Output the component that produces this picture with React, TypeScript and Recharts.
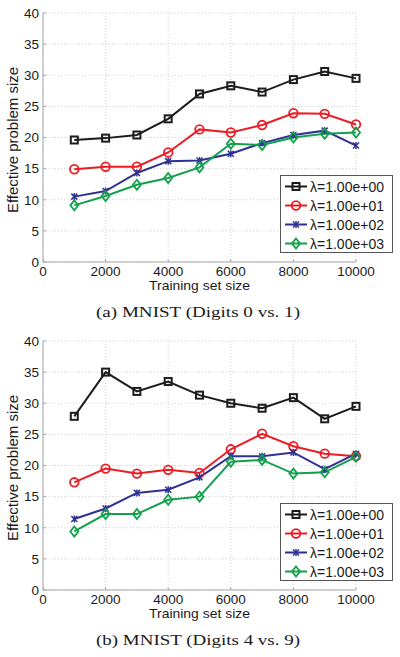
import React from 'react';
import { LineChart, Line, XAxis, YAxis, CartesianGrid, Legend } from 'recharts';

const trainingSetSizes = [1000, 2000, 3000, 4000, 5000, 6000, 7000, 8000, 9000, 10000];
const xTicks = [0, 2000, 4000, 6000, 8000, 10000];
const yTicks = [0, 5, 10, 15, 20, 25, 30, 35, 40];
const lambdaLabels = ['λ=1.00e+00', 'λ=1.00e+01', 'λ=1.00e+02', 'λ=1.00e+03'];
const xAxisTitle = 'Training set size';
const yAxisTitle = 'Effective problem size';
const captionA = '(a) MNIST (Digits 0 vs. 1)';
const captionB = '(b) MNIST (Digits 4 vs. 9)';

// Panel (a): digits 0 vs 1
const digits01Lambda1 = [19.6, 19.9, 20.4, 23.0, 27.0, 28.3, 27.3, 29.3, 30.6, 29.5];
const digits01Lambda10 = [14.9, 15.3, 15.3, 17.6, 21.3, 20.8, 22.0, 23.9, 23.8, 22.1];
const digits01Lambda100 = [10.5, 11.4, 14.3, 16.2, 16.3, 17.4, 19.1, 20.4, 21.1, 18.7];
const digits01Lambda1000 = [9.1, 10.6, 12.4, 13.5, 15.2, 19.0, 18.8, 20.0, 20.6, 20.8];

// Panel (b): digits 4 vs 9
const digits49Lambda1 = [27.9, 35.0, 31.9, 33.5, 31.3, 30.0, 29.2, 30.9, 27.5, 29.5];
const digits49Lambda10 = [17.3, 19.5, 18.7, 19.3, 18.8, 22.6, 25.1, 23.1, 21.9, 21.5];
const digits49Lambda100 = [11.4, 13.1, 15.6, 16.1, 18.1, 21.5, 21.5, 22.1, 19.4, 21.9];
const digits49Lambda1000 = [9.4, 12.2, 12.2, 14.5, 15.0, 20.6, 20.9, 18.7, 18.9, 21.4];

const seriesColors = ['#1c1c1c', '#ec1c24', '#2e3192', '#12a04c'];
const markerKinds = ['square', 'circle', 'star', 'diamond'];
const FONT = '"Liberation Sans", Arial, Helvetica, sans-serif';

function Marker({ kind, cx, cy, color }: { kind: string; cx: number; cy: number; color: string }) {
  if (kind === 'square') {
    return <rect x={cx - 3.5} y={cy - 3.5} width={7} height={7} fill="none" stroke={color} strokeWidth={2} />;
  }
  if (kind === 'circle') {
    return <circle cx={cx} cy={cy} r={4.3} fill="none" stroke={color} strokeWidth={1.8} />;
  }
  if (kind === 'diamond') {
    return (
      <polygon
        points={`${cx},${cy - 5} ${cx + 4},${cy} ${cx},${cy + 5} ${cx - 4},${cy}`}
        fill="none"
        stroke={color}
        strokeWidth={1.8}
      />
    );
  }
  return (
    <g stroke={color} strokeWidth={1.5}>
      <line x1={cx - 3} y1={cy - 3} x2={cx + 3} y2={cy + 3} />
      <line x1={cx - 3} y1={cy + 3} x2={cx + 3} y2={cy - 3} />
      <line x1={cx} y1={cy - 3.5} x2={cx} y2={cy + 3.5} />
    </g>
  );
}

function LegendBox() {
  return (
    <div
      style={{
        width: 113,
        height: 78,
        boxSizing: 'border-box',
        border: '1px solid #555',
        background: '#fff',
        paddingTop: 1,
        fontFamily: FONT,
        fontSize: 14,
        color: '#1a1a1a',
      }}
    >
      {lambdaLabels.map((label, i) => (
        <div key={label} style={{ height: 19, display: 'flex', alignItems: 'center' }}>
          <svg width={29} height={19} style={{ flex: 'none' }}>
            <line x1={4} y1={9.5} x2={26} y2={9.5} stroke={seriesColors[i]} strokeWidth={2} />
            <Marker kind={markerKinds[i]} cx={15} cy={9.5} color={seriesColors[i]} />
          </svg>
          <span style={{ whiteSpace: 'nowrap' }}>{label}</span>
        </div>
      ))}
    </div>
  );
}

function Panel({ top, series, caption }: { top: number; series: number[][]; caption: string }) {
  const data = trainingSetSizes.map((size, i) => ({
    size,
    s0: series[0][i],
    s1: series[1][i],
    s2: series[2][i],
    s3: series[3][i],
  }));
  const tickStyle = { fill: '#1a1a1a', fontSize: 13.5, fontFamily: FONT };
  return (
    <div style={{ position: 'absolute', left: 0, top, width: 400, height: 328 }}>
      <LineChart width={400} height={300} data={data} margin={{ top: 13, right: 44, bottom: 8, left: 0 }}>
        <CartesianGrid stroke="#cfcfcf" strokeDasharray="1 2" />
        <XAxis
          dataKey="size"
          type="number"
          domain={[0, 10000]}
          ticks={xTicks}
          interval={0}
          height={30}
          tickSize={-3}
          tickMargin={7}
          stroke="#a8a8a8"
          tick={tickStyle}
        />
        <YAxis
          type="number"
          domain={[0, 40]}
          ticks={yTicks}
          interval={0}
          width={43}
          tickSize={-3}
          tickMargin={7}
          stroke="#a8a8a8"
          tick={tickStyle}
        />
        {lambdaLabels.map((label, i) => (
          <Line
            key={label}
            name={label}
            dataKey={`s${i}`}
            stroke={seriesColors[i]}
            strokeWidth={2}
            isAnimationActive={false}
            dot={(p: any) => (
              <Marker key={`m${i}-${p.index}`} kind={markerKinds[i]} cx={p.cx} cy={p.cy} color={seriesColors[i]} />
            )}
            activeDot={false}
          />
        ))}
        <Legend
          layout="vertical"
          align="center"
          verticalAlign="middle"
          wrapperStyle={{ left: 280, top: 175, width: 113, height: 78 }}
          content={() => <LegendBox />}
        />
      </LineChart>
      <svg width={400} height={328} style={{ position: 'absolute', left: 0, top: 0, pointerEvents: 'none' }}>
        <text
          x={199.5}
          y={290}
          textAnchor="middle"
          fontFamily={FONT}
          fontSize={13.5}
          fill="#1a1a1a"
          textLength={101}
          lengthAdjust="spacingAndGlyphs"
        >
          {xAxisTitle}
        </text>
        <text
          x={13}
          y={140}
          transform="rotate(-90, 13, 140)"
          textAnchor="middle"
          dominantBaseline="central"
          fontFamily={FONT}
          fontSize={14.5}
          fill="#1a1a1a"
          textLength={146}
          lengthAdjust="spacingAndGlyphs"
        >
          {yAxisTitle}
        </text>
        <text
          x={198}
          y={317}
          textAnchor="middle"
          fontFamily='"Liberation Serif", "DejaVu Serif", serif'
          fontSize={15.5}
          fill="#1a1a1a"
          textLength={204}
          lengthAdjust="spacingAndGlyphs"
        >
          {caption}
        </text>
      </svg>
    </div>
  );
}

export default function App() {
  return (
    <div style={{ position: 'absolute', left: 0, top: 0, width: 400, height: 657, background: '#fff' }}>
      <Panel top={0} series={[digits01Lambda1, digits01Lambda10, digits01Lambda100, digits01Lambda1000]} caption={captionA} />
      <Panel top={328} series={[digits49Lambda1, digits49Lambda10, digits49Lambda100, digits49Lambda1000]} caption={captionB} />
    </div>
  );
}
